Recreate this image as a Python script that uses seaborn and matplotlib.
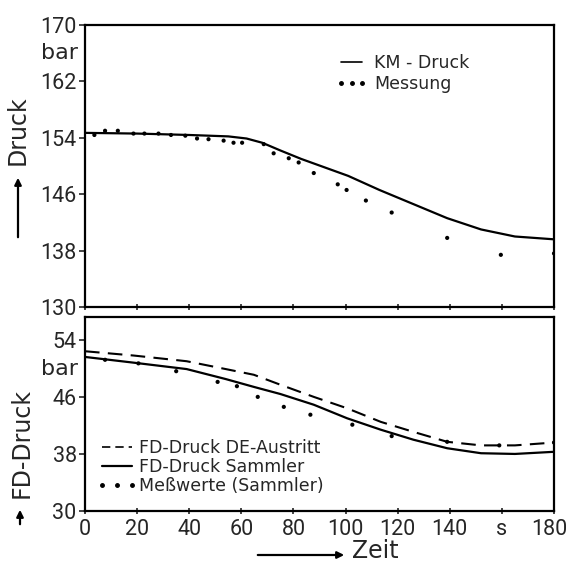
import numpy as np
import pandas as pd
import matplotlib
matplotlib.use("Agg")
import matplotlib.pyplot as plt
import matplotlib.transforms as mtransforms
from matplotlib.lines import Line2D
import seaborn as sns

# ---- data ----
km_t = [0, 20, 40, 55, 62, 68, 75, 83, 92, 101, 113, 126, 139, 152, 165, 180]
km_p = [154.7, 154.6, 154.4, 154.2, 153.9, 153.3, 152.2, 151.0, 149.8, 148.6, 146.6, 144.6, 142.6, 141.0, 140.0, 139.6]

mess_t = [3.6, 7.7, 12.6, 18.6, 22.8, 28.2, 33, 38.5, 43, 47.4, 53.2, 57, 60.3, 68.6, 72.4,
          78.2, 82, 87.8, 97, 100.4, 107.8, 117.7, 139, 159.6, 180]
mess_p = [154.4, 155.0, 155.0, 154.6, 154.6, 154.6, 154.4, 154.3, 153.9, 153.8, 153.6, 153.3,
          153.3, 153.1, 151.8, 151.1, 150.5, 149.0, 147.4, 146.6, 145.1, 143.4, 139.8, 137.4, 137.6]

fd_t = [0, 18.6, 39, 54, 64.8, 75, 87.8, 100.6, 113.5, 126, 139, 152, 165, 180]
fd_de = [52.4, 51.8, 51.0, 49.9, 49.1, 47.7, 46.0, 44.4, 42.5, 41.1, 39.7, 39.2, 39.2, 39.6]
fd_sa = [51.6, 50.8, 49.9, 48.5, 47.4, 46.4, 44.9, 43.0, 41.4, 40.0, 38.8, 38.1, 38.0, 38.3]

mw_t = [7.7, 20.5, 35, 50.9, 58.3, 66.3, 76.3, 86.5, 102.6, 117.7, 139, 159, 180]
mw_p = [51.2, 50.7, 49.6, 48.1, 47.5, 46.0, 44.6, 43.5, 42.1, 40.5, 39.7, 39.2, 39.6]

top_yticks = [130, 138, 146, 154, 162, 170]
bot_yticks = [30, 38, 46, 54]
xticks = [0, 20, 40, 60, 80, 100, 120, 140, 160, 180]
xticklabels = ["0", "20", "40", "60", "80", "100", "120", "140", "s", "180"]

# ---- style ----
sns.set_style("ticks")
plt.rcParams["font.family"] = ["DejaVu Sans"]
TICKFONT = ["Roboto", "DejaVu Sans"]
TICKSIZE = 15.5

W, H = 569, 563
fig = plt.figure(figsize=(W / 100, H / 100), dpi=100)

def ax_rect(l, t, r, b):
    return [l / W, 1 - b / H, (r - l) / W, (b - t) / H]

ax1 = fig.add_axes(ax_rect(85, 25, 554, 307))
ax2 = fig.add_axes(ax_rect(85, 317, 554, 511))

df_km = pd.DataFrame({"t": km_t, "p": km_p})
df_m = pd.DataFrame({"t": mess_t, "p": mess_p})
df_fd = pd.DataFrame({"t": fd_t, "de": fd_de, "sa": fd_sa})
df_mw = pd.DataFrame({"t": mw_t, "p": mw_p})

sns.lineplot(data=df_km, x="t", y="p", ax=ax1, color="black", lw=1.6)
sns.scatterplot(data=df_m, x="t", y="p", ax=ax1, color="black", s=9, edgecolor="none")

sns.lineplot(data=df_fd, x="t", y="de", ax=ax2, color="black", lw=1.5, dashes=False)
ax2.lines[-1].set_dashes([7, 4])
sns.lineplot(data=df_fd, x="t", y="sa", ax=ax2, color="black", lw=1.6)
sns.scatterplot(data=df_mw, x="t", y="p", ax=ax2, color="black", s=9, edgecolor="none")

for ax in (ax1, ax2):
    ax.set_xlim(0, 180)
    ax.set_xlabel("")
    ax.set_ylabel("")
    for s in ax.spines.values():
        s.set_visible(True)
        s.set_linewidth(1.6)
        s.set_color("black")
    ax.set_xticks(xticks)
    ax.tick_params(axis="x", direction="inout", length=5, width=1.2)
    ax.tick_params(axis="y", direction="out", length=4, width=1.2, pad=2)

ax1.set_ylim(130, 170)
ax1.set_yticks(top_yticks)
ax1.set_yticklabels([str(v) for v in top_yticks], fontsize=TICKSIZE, family=TICKFONT)
ax1.set_xticklabels([])

ax2.set_ylim(30, 57.2)
ax2.set_yticks(bot_yticks)
ax2.set_yticklabels([str(v) for v in bot_yticks], fontsize=TICKSIZE, family=TICKFONT)
ax2.set_xticklabels(xticklabels, fontsize=TICKSIZE, family=TICKFONT)
ax2.tick_params(axis="x", pad=3)
# keep the last label ("180") inside the figure, as in the reference
last = ax2.get_xticklabels()[-1]
last.set_transform(last.get_transform() +
                   mtransforms.ScaledTranslation(-5 / 100, 0, fig.dpi_scale_trans))

# "bar" unit labels
fig.text(78 / W, 1 - 53 / H, "bar", ha="right", va="center", fontsize=16)
fig.text(78 / W, 1 - 369 / H, "bar", ha="right", va="center", fontsize=16)

# legends
h1 = [Line2D([], [], color="black", lw=1.2),
      Line2D([], [], color="black", ls="", marker="o", ms=2.5)]
ax1.legend(h1, ["KM - Druck", "Messung"], loc="upper left",
           bbox_to_anchor=((336 - 85) / 469, (307 - 54) / 282), frameon=False,
           fontsize=12.5, handlelength=1.8, handletextpad=0.4, numpoints=3,
           borderpad=0, borderaxespad=0, labelspacing=0.2)

h2 = [Line2D([], [], color="black", lw=1.2, dashes=[5, 3]),
      Line2D([], [], color="black", lw=1.6),
      Line2D([], [], color="black", ls="", marker="o", ms=2.5)]
ax2.legend(h2, ["FD-Druck DE-Austritt", "FD-Druck Sammler", "Meßwerte (Sammler)"],
           loc="upper left", bbox_to_anchor=((97 - 85) / 469, (511 - 439) / 194),
           frameon=False, fontsize=12.5, handlelength=2.3, handletextpad=0.1,
           numpoints=3, borderpad=0, borderaxespad=0, labelspacing=0.05)

# axis titles with arrows
fig.text(18 / W, 1 - 130 / H, "Druck", rotation=90, ha="center", va="center", fontsize=17)
fig.add_artist(matplotlib.patches.FancyArrowPatch(
    (18 / W, 1 - 240 / H), (18 / W, 1 - 175 / H), transform=fig.transFigure,
    arrowstyle="-|>,head_length=4,head_width=2", color="black", lw=1.6))

fig.text(22 / W, 1 - 443 / H, "FD-Druck", rotation=90, ha="center", va="center", fontsize=17)
fig.add_artist(matplotlib.patches.FancyArrowPatch(
    (20 / W, 1 - 527 / H), (20 / W, 1 - 507 / H), transform=fig.transFigure,
    arrowstyle="-|>,head_length=4,head_width=2", color="black", lw=1.6))

fig.add_artist(matplotlib.patches.FancyArrowPatch(
    (255 / W, 1 - 555 / H), (347 / W, 1 - 555 / H), transform=fig.transFigure,
    arrowstyle="-|>,head_length=4,head_width=2", color="black", lw=1.6))
fig.text(352 / W, 1 - 551 / H, "Zeit", ha="left", va="center", fontsize=17)

fig.savefig("out.png", dpi=100, facecolor="white")
